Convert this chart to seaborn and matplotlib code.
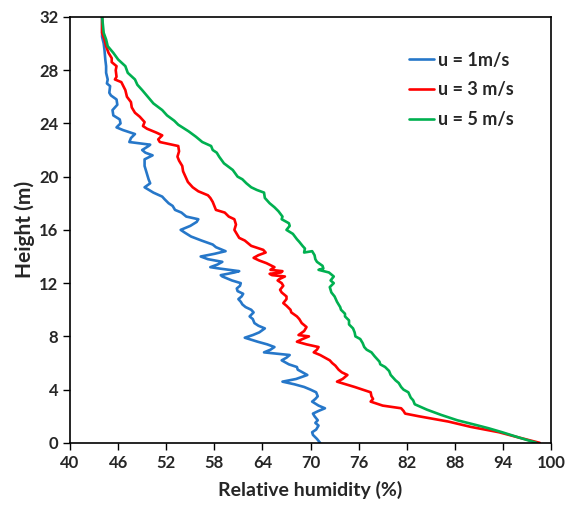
import pandas as pd
import matplotlib.pyplot as plt
import seaborn as sns

# profiles: height (m) and relative humidity (%)
h_u1 = [0.0, 0.3, 0.6, 0.8, 1.0, 1.3, 1.5, 1.7, 2.0, 2.2, 2.4, 2.6, 2.8, 3.1, 3.3, 3.5, 3.8, 4.0,
        4.2, 4.4, 4.6, 4.8, 5.1, 5.3, 5.5, 5.7, 5.9, 6.2, 6.4, 6.6, 6.8, 7.0, 7.2, 7.4, 7.6, 7.9,
        8.1, 8.3, 8.6, 8.8, 9.0, 9.3, 9.5, 9.8, 10.0, 10.2, 10.4, 10.6, 10.8, 11.0, 11.2, 11.4,
        11.6, 11.8, 12.0, 12.2, 12.3, 12.5, 12.6, 12.8, 12.9, 13.1, 13.2, 13.4, 13.6, 13.8, 14.0,
        14.2, 14.4, 14.7, 14.9, 15.2, 15.5, 15.8, 16.0, 16.3, 16.6, 16.8, 17.0, 17.3, 17.5, 17.8,
        18.0, 18.3, 18.5, 18.8, 19.2, 19.5, 19.8, 20.0, 20.4, 20.8, 21.3, 21.6, 21.8, 22.0, 22.3,
        22.4, 22.6, 22.9, 23.2, 23.5, 23.7, 24.0, 24.3, 24.6, 25.0, 25.4, 25.8, 26.1, 26.3, 26.8,
        27.0, 27.3, 27.8, 28.3, 28.8, 29.5, 30.0, 30.5, 31.2, 32.0]
rh_u1 = [71.2, 70.8, 70.3, 70.2, 70.7, 71.0, 70.6, 70.9, 70.5, 70.3, 71.0, 71.8, 71.0, 70.2, 70.6,
         70.9, 70.7, 70.0, 69.2, 68.0, 66.5, 68.2, 69.6, 69.0, 68.4, 68.3, 67.3, 66.4, 67.0, 67.4,
         64.2, 65.0, 65.5, 64.6, 63.4, 61.8, 62.8, 63.6, 64.3, 63.5, 63.0, 62.8, 62.4, 62.9, 62.6,
         61.9, 61.5, 61.3, 61.0, 61.4, 61.6, 60.9, 60.8, 61.2, 61.3, 60.2, 59.8, 59.0, 58.8, 60.5,
         61.1, 58.6, 57.5, 58.4, 59.0, 57.2, 56.3, 58.0, 59.4, 58.2, 57.8, 56.4, 55.1, 54.3, 53.8,
         55.0, 55.8, 56.0, 54.5, 53.9, 53.1, 52.8, 52.3, 51.8, 51.5, 50.4, 49.3, 50.0, 49.8, 49.7,
         49.5, 49.3, 49.3, 50.3, 49.4, 49.0, 49.8, 50.0, 47.4, 47.6, 48.1, 46.6, 45.8, 46.3, 46.2,
         45.4, 45.3, 45.9, 45.8, 45.1, 44.9, 45.0, 44.6, 44.7, 44.5, 44.5, 44.4, 44.3, 44.2, 44.0,
         44.0, 44.0]

h_u3 = [0.0, 0.4, 0.8, 1.2, 1.6, 2.0, 2.2, 2.4, 2.6, 2.8, 3.1, 3.3, 3.5, 3.8, 4.0, 4.2, 4.4, 4.6,
        4.8, 5.1, 5.3, 5.5, 5.8, 6.0, 6.2, 6.4, 6.6, 6.8, 7.0, 7.2, 7.4, 7.6, 7.8, 8.0, 8.1, 8.4,
        8.7, 9.0, 9.3, 9.5, 9.8, 10.0, 10.3, 10.5, 10.8, 11.0, 11.3, 11.5, 11.8, 12.0, 12.2, 12.3,
        12.5, 12.6, 12.7, 12.8, 12.9, 13.0, 13.2, 13.5, 13.7, 13.9, 14.1, 14.3, 14.5, 14.8, 15.0,
        15.2, 15.4, 15.7, 16.0, 16.4, 16.8, 17.0, 17.3, 17.5, 17.8, 18.1, 18.4, 18.6, 18.9, 19.2,
        19.6, 20.0, 20.4, 20.8, 21.2, 21.5, 21.9, 22.3, 22.6, 22.8, 23.1, 23.3, 23.6, 23.8, 24.1,
        24.5, 24.8, 25.2, 25.6, 26.0, 26.5, 27.1, 27.3, 27.5, 28.0, 28.3, 28.6, 28.9, 29.3, 29.8,
        30.3, 30.8, 31.5, 32.0]
rh_u3 = [98.6, 96.0, 93.5, 90.0, 87.2, 83.5, 81.8, 81.6, 81.3, 79.0, 77.5, 77.8, 77.6, 77.5, 76.5,
         75.5, 74.4, 73.3, 74.0, 74.6, 73.9, 73.5, 73.1, 72.7, 72.4, 71.8, 71.2, 70.4, 70.8, 71.0,
         69.5, 68.3, 69.0, 69.8, 68.5, 69.2, 69.5, 68.9, 68.6, 68.3, 67.6, 67.5, 67.0, 66.6, 67.0,
         67.0, 66.4, 66.2, 66.6, 66.4, 65.9, 66.1, 66.8, 65.2, 64.9, 66.3, 66.5, 65.0, 65.5, 64.5,
         63.6, 62.9, 63.5, 64.4, 64.1, 62.6, 62.2, 61.8, 61.1, 60.8, 60.5, 60.7, 60.5, 59.8, 59.3,
         58.2, 58.0, 57.8, 57.5, 57.2, 56.0, 55.3, 54.7, 54.4, 54.1, 54.0, 53.6, 53.4, 53.6, 53.5,
         51.2, 51.0, 51.5, 50.8, 49.6, 49.1, 49.3, 48.7, 48.1, 47.7, 47.6, 47.1, 46.9, 46.4, 45.6,
         45.8, 45.7, 45.8, 45.2, 45.2, 44.8, 44.5, 44.3, 44.0, 44.0, 44.0]

h_u5 = [0.0, 0.4, 0.8, 1.1, 1.35, 1.7, 2.1, 2.5, 2.9, 3.2, 3.4, 3.8, 4.0, 4.2, 4.5, 4.7, 5.1, 5.4,
        5.7, 5.9, 6.1, 6.5, 6.8, 7.0, 7.2, 7.5, 7.8, 8.0, 8.3, 8.6, 8.9, 9.2, 9.5, 9.7, 10.0, 10.2,
        10.6, 11.0, 11.3, 11.7, 12.0, 12.2, 12.5, 12.8, 13.0, 13.1, 13.3, 13.6, 13.8, 14.1, 14.4,
        14.3, 14.6, 14.8, 15.1, 15.3, 15.7, 16.0, 16.3, 16.5, 16.8, 17.0, 17.4, 17.7, 18.0, 18.4,
        18.8, 19.0, 19.2, 19.5, 19.8, 20.0, 20.5, 21.0, 21.5, 21.8, 22.0, 22.3, 22.6, 23.0, 23.4,
        23.9, 24.2, 24.6, 25.0, 25.5, 26.0, 26.5, 26.9, 27.3, 27.8, 28.3, 28.8, 29.3, 29.8, 30.3,
        30.8, 31.4, 32.0]
rh_u5 = [98.2, 96.0, 93.9, 92.2, 90.6, 88.3, 86.3, 84.5, 83.0, 82.8, 82.5, 82.2, 81.6, 81.3, 81.0,
         80.6, 80.0, 79.8, 79.3, 78.7, 78.6, 78.0, 77.6, 77.0, 76.7, 76.5, 76.2, 75.6, 75.5, 75.3,
         74.8, 74.8, 74.3, 74.3, 73.8, 73.7, 73.3, 73.0, 72.6, 72.4, 72.9, 72.5, 72.9, 72.3, 71.0,
         71.6, 71.5, 70.8, 70.6, 70.5, 70.2, 69.2, 69.3, 69.0, 68.6, 68.3, 67.8, 67.0, 67.4, 67.3,
         66.4, 66.5, 66.0, 65.5, 64.9, 64.3, 64.2, 63.3, 62.6, 62.0, 61.5, 60.9, 60.3, 59.2, 58.6,
         58.3, 57.8, 57.6, 56.5, 55.7, 54.8, 53.5, 53.0, 52.1, 51.5, 50.4, 49.7, 49.0, 48.4, 48.1,
         47.2, 46.9, 46.0, 45.4, 44.7, 44.5, 44.2, 44.1, 44.0]

labels = ['u = 1m/s', 'u = 3 m/s', 'u = 5 m/s']
colors = ['#2677C9', '#FF0000', '#00B050']

frames = []
for lab, rh, h in zip(labels, [rh_u1, rh_u3, rh_u5], [h_u1, h_u3, h_u5]):
    frames.append(pd.DataFrame({'rh': rh, 'h': h, 'series': lab}))
df = pd.concat(frames, ignore_index=True)

sns.set_style('white')
plt.rcParams['font.family'] = ['Lato', 'DejaVu Sans']

fig = plt.figure(figsize=(5.74, 5.12), dpi=100)
ax = fig.add_axes([0.122, 0.135, 0.838, 0.832])

sns.lineplot(data=df, x='rh', y='h', hue='series', palette=colors, sort=False,
             estimator=None, linewidth=1.9, ax=ax)

ax.set_xlim(40, 100)
ax.set_ylim(0, 32)
ax.set_xticks(range(40, 101, 6))
ax.set_yticks(range(0, 33, 4))
ax.tick_params(direction='out', length=5, width=1, color='black', labelsize=12,
               bottom=True, left=True, top=False, right=False)
for t in ax.get_xticklabels() + ax.get_yticklabels():
    t.set_fontweight('bold')
for s in ax.spines.values():
    s.set_color('black')
    s.set_linewidth(1.2)

ax.set_xlabel('Relative humidity (%)', fontsize=14, fontweight='bold', labelpad=7)
ax.set_ylabel('Height (m)', fontsize=15, fontweight='bold', labelpad=3)

leg = ax.legend(loc='upper left', bbox_to_anchor=(0.69, 0.935), frameon=False,
                fontsize=13, handlelength=1.4, handletextpad=0.2, labelspacing=0.7,
                borderaxespad=0)
for t in leg.get_texts():
    t.set_fontweight('bold')

fig.savefig('out.png', dpi=100)
